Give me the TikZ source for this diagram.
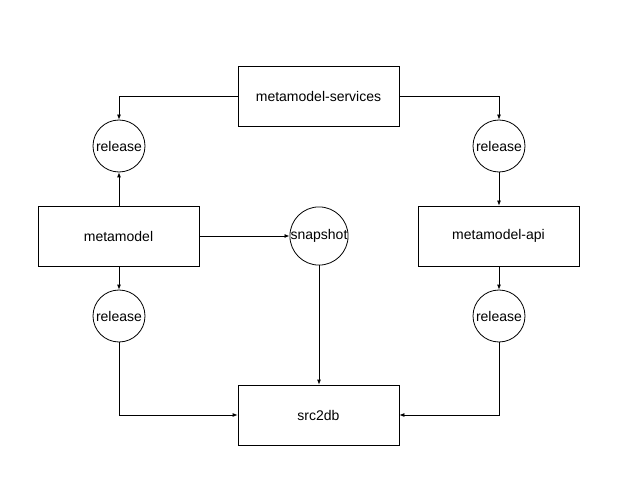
\documentclass[tikz,border=0pt]{standalone}
\usepackage{fontspec}
\setmainfont{Liberation Sans}
\usetikzlibrary{arrows.meta}
\begin{document}
\begin{tikzpicture}[x=1pt,y=-1pt,
  box/.style={draw,line width=0.8pt,minimum width=161pt,minimum height=60pt,inner sep=0pt,font=\fontsize{14}{16}\selectfont},
  rel/.style={draw,circle,line width=0.8pt,minimum size=52pt,inner sep=0pt,font=\fontsize{14}{16}\selectfont},
  conn/.style={line width=0.8pt,-{Latex[length=5pt,width=4pt]}}]
\useasboundingbox (0,0) rectangle (625,487);
\node[box] (svc) at (318.5,96) {metamodel-services};
\node[box] (mm) at (118.5,236) {metamodel};
\node[box] (api) at (498.5,236) {metamodel-api};
\node[box] (db) at (318.5,415) {src2db};
\node[rel] (r1) at (119,146) {release};
\node[rel] (r2) at (499,146) {release};
\node[rel] (r3) at (119,316) {release};
\node[rel] (r4) at (499,316) {release};
\node[rel] (snap) at (319,236) {snapshot};
\draw[conn] (svc.west) -| (r1.north);
\draw[conn] (svc.east) -| (r2.north);
\draw[conn] (mm.north -| r1) -- (r1.south);
\draw[conn] (r2.south) -- (api.north -| r2);
\draw[conn] (mm.south -| r3) -- (r3.north);
\draw[conn] (api.south -| r4) -- (r4.north);
\draw[conn] (mm.east) -- (snap.west);
\draw[conn] (snap.south) -- (db.north -| snap);
\draw[conn] (r3.south) |- (db.west);
\draw[conn] (r4.south) |- (db.east);
\end{tikzpicture}
\end{document}
